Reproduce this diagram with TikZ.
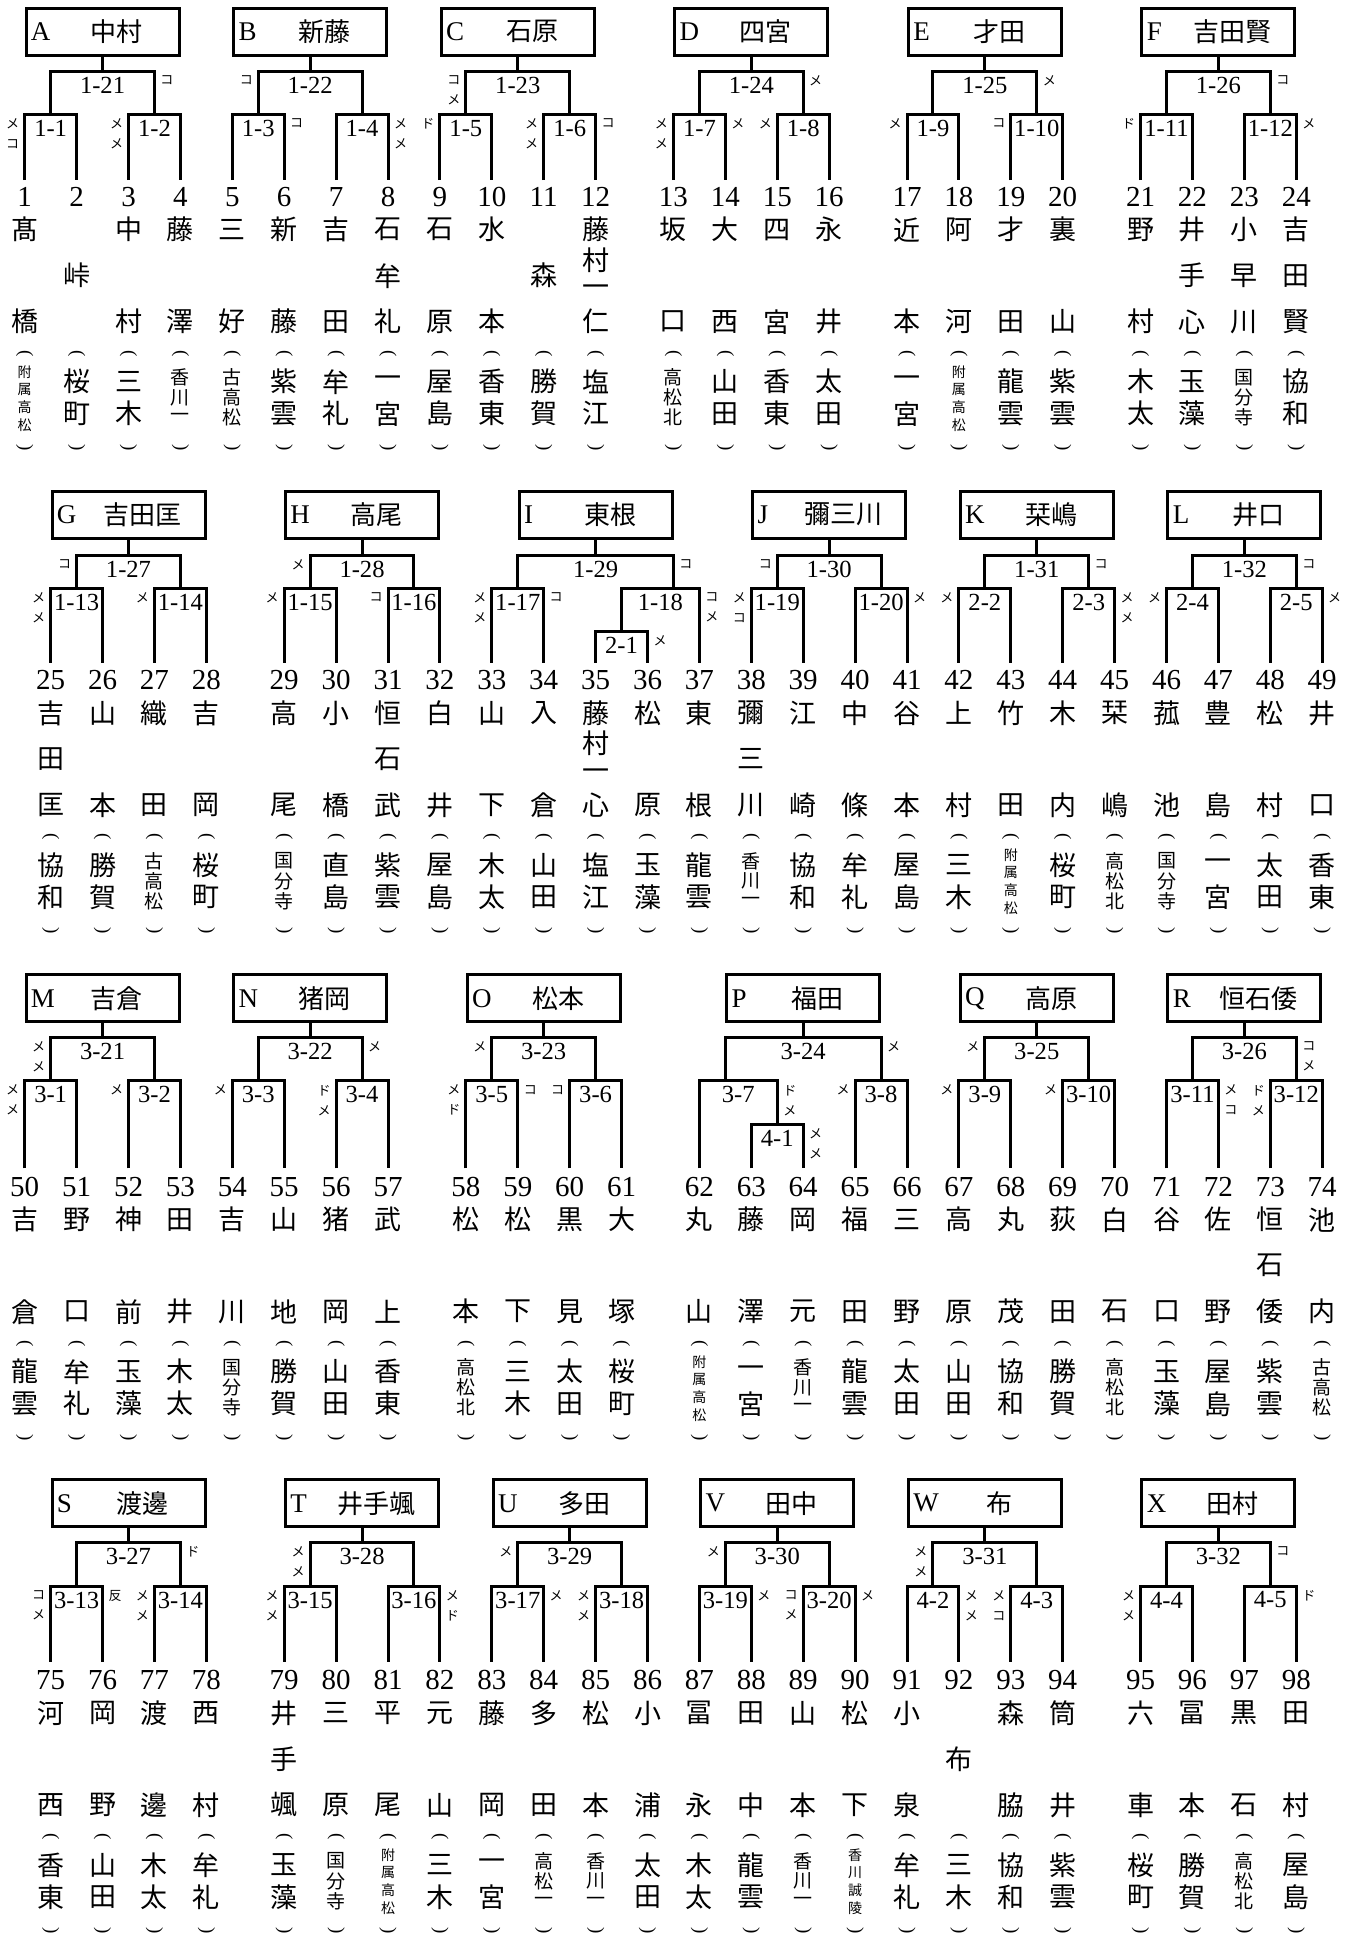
\documentclass[tikz,border=0pt]{standalone}
\usepackage{fontspec}
\setmainfont{Liberation Serif}
\newfontfamily\jp{Noto Sans CJK JP}
\usepackage{tikz}
\usetikzlibrary{calc}
\tikzset{
  bk/.style={line width=1.5pt},
  winbox/.style={draw, line width=1.5pt, minimum width=76.5pt, minimum height=23.5pt, inner sep=0pt},
}
\newcommand\colx[1]{24.7+51.9*(#1)}
\newcommand\countchars[1]{\gdef\vcnt{0}\foreach \ch in {#1}{\xdef\vcnt{\the\numexpr\vcnt+1\relax}}}
\newcommand\vchars[6]{%
  \countchars{#5}%
  \ifnum\vcnt=1
    \node[#6] (#1) at ({\colx{#2}},{(#3+#4)/2}) {#5};
  \else
    \foreach \ch [count=\k from 0] in {#5}
      {\node[#6] (#1-\k) at ({\colx{#2}},{#3+(#4-(#3))*\k/(\vcnt-1)}) {\ch};}
  \fi}
\newcommand\school[3]{%
  \node[paren] (so#1) at ({\colx{#2}},{\rN+157}) {(};
  \node[paren] (sc#1) at ({\colx{#2}},{\rN+251}) {)};
  \countchars{#3}%
  \ifcase\vcnt\or\or
    \vchars{s#1}{#2}{\rN+185}{\rN+217}{#3}{schl}%
  \or
    \vchars{s#1}{#2}{\rN+181}{\rN+221}{#3}{schs}%
  \else
    \vchars{s#1}{#2}{\rN+175}{\rN+228}{#3}{scht}%
  \fi}
\newcommand\player[4]{%
  \coordinate (p#1) at ({\colx{#2}},{\rL});
  \node[num] (num#1) at ({\colx{#2}},{\rN}) {#1};
  \vchars{n#1}{#2}{\rN+33}{\rN+125}{#3}{namech}%
  \school{#1}{#2}{#4}}
\newcommand\match[6]{%
  \coordinate (m#1) at ({\colx{#3}},#4);
  \draw[bk] (#5) |- (m#1) -| (#6);
  \node[mlab] (t#1) at ($(#5|-m#1)!.5!(#6|-m#1)+(0,14)$) {#2};}
\newcommand\winner[4]{%
  \node[winbox] (b#1) at ({\colx{#3}},#4) {};
  \node[boxlet, anchor=west] (l#1) at ([xshift=3pt]b#1.west) {#1};
  \node[boxname] (w#1) at ([xshift=7.2pt]b#1.center) {#2};}

\begin{document}
\begin{tikzpicture}[x=0.5pt, y=-0.5pt,
  num/.style={font=\fontsize{14.5}{15}\selectfont, inner sep=0pt},
  namech/.style={font=\jp\fontsize{13.5}{14}\selectfont, inner sep=0pt},
  schl/.style={namech},
  schs/.style={font=\jp\fontsize{9.5}{10}\selectfont, inner sep=0pt},
  scht/.style={font=\jp\fontsize{7}{8}\selectfont, inner sep=0pt},
  paren/.style={font=\fontsize{9.5}{10}\selectfont, inner sep=0pt, rotate=-90},
  mlab/.style={font=\fontsize{12.3}{13}\selectfont, inner sep=0pt},
  boxlet/.style={font=\fontsize{13.5}{14}\selectfont, inner sep=0pt},
  boxname/.style={font=\jp\fontsize{13}{14}\selectfont, inner sep=0pt},
  mk/.style={font=\jp\fontsize{6.5}{10}\selectfont, align=center, inner sep=0pt, anchor=north}]
\useasboundingbox (0,0) rectangle (1352,1934);

% row 1
\def\rN{196.7}\def\rL{180}
\player{1}{0}{髙,橋}{附,属,高,松}
\player{2}{1}{峠}{桜,町}
\player{3}{2}{中,村}{三,木}
\player{4}{3}{藤,澤}{香,川,一}
\player{5}{4}{三,好}{古,高,松}
\player{6}{5}{新,藤}{紫,雲}
\player{7}{6}{吉,田}{牟,礼}
\player{8}{7}{石,牟,礼}{一,宮}
\player{9}{8}{石,原}{屋,島}
\player{10}{9}{水,本}{香,東}
\player{11}{10}{森}{勝,賀}
\player{12}{11}{藤,村,一,仁}{塩,江}
\player{13}{12.5}{坂,口}{高,松,北}
\player{14}{13.5}{大,西}{山,田}
\player{15}{14.5}{四,宮}{香,東}
\player{16}{15.5}{永,井}{太,田}
\player{17}{17}{近,本}{一,宮}
\player{18}{18}{阿,河}{附,属,高,松}
\player{19}{19}{才,田}{龍,雲}
\player{20}{20}{裏,山}{紫,雲}
\player{21}{21.5}{野,村}{木,太}
\player{22}{22.5}{井,手,心}{玉,藻}
\player{23}{23.5}{小,早,川}{国,分,寺}
\player{24}{24.5}{吉,田,賢}{協,和}

\match{1x1}{1-1}{0.5}{114.3}{p1}{p2}
\match{1x2}{1-2}{2.5}{114.3}{p3}{p4}
\match{1x21}{1-21}{1.5}{71}{m1x1}{m1x2}
\match{1x3}{1-3}{4.5}{114.3}{p5}{p6}
\match{1x4}{1-4}{6.5}{114.3}{p7}{p8}
\match{1x22}{1-22}{5.5}{71}{m1x3}{m1x4}
\match{1x5}{1-5}{8.5}{114.3}{p9}{p10}
\match{1x6}{1-6}{10.5}{114.3}{p11}{p12}
\match{1x23}{1-23}{9.5}{71}{m1x5}{m1x6}
\match{1x7}{1-7}{13}{114.3}{p13}{p14}
\match{1x8}{1-8}{15}{114.3}{p15}{p16}
\match{1x24}{1-24}{14}{71}{m1x7}{m1x8}
\match{1x9}{1-9}{17.5}{114.3}{p17}{p18}
\match{1x10}{1-10}{19.5}{114.3}{p19}{p20}
\match{1x25}{1-25}{18.5}{71}{m1x9}{m1x10}
\match{1x11}{1-11}{22}{114.3}{p21}{p22}
\match{1x12}{1-12}{24}{114.3}{p23}{p24}
\match{1x26}{1-26}{23}{71}{m1x11}{m1x12}

\winner{A}{中村}{1.5}{31.65}
\winner{B}{新藤}{5.5}{31.65}
\winner{C}{石原}{9.5}{31.65}
\winner{D}{四宮}{14}{31.65}
\winner{E}{才田}{18.5}{31.65}
\winner{F}{吉田賢}{23}{31.65}
\draw[bk] (bA.south) -- (m1x21);
\draw[bk] (bB.south) -- (m1x22);
\draw[bk] (bC.south) -- (m1x23);
\draw[bk] (bD.south) -- (m1x24);
\draw[bk] (bE.south) -- (m1x25);
\draw[bk] (bF.south) -- (m1x26);

\node[mk] (kA1) at ($(p1|-m1x1)+(-12,4)$) {メ\\コ};
\node[mk] (kA2) at ($(p3|-m1x2)+(-12,4)$) {メ\\メ};
\node[mk] (kA3) at ($(m1x2|-m1x21)+(12.5,4)$) {コ};
\node[mk] (kB1) at ($(m1x3|-m1x22)+(-12,4)$) {コ};
\node[mk] (kB2) at ($(p6|-m1x3)+(12.5,4)$) {コ};
\node[mk] (kB3) at ($(p8|-m1x4)+(12.5,4)$) {メ\\メ};
\node[mk] (kC1) at ($(m1x5|-m1x23)+(-12,4)$) {コ\\メ};
\node[mk] (kC2) at ($(p9|-m1x5)+(-12,4)$) {ド};
\node[mk] (kC3) at ($(p11|-m1x6)+(-12,4)$) {メ\\メ};
\node[mk] (kC4) at ($(p12|-m1x6)+(12.5,4)$) {コ};
\node[mk] (kD1) at ($(m1x8|-m1x24)+(12.5,4)$) {メ};
\node[mk] (kD2) at ($(p13|-m1x7)+(-12,4)$) {メ\\メ};
\node[mk] (kD3) at ($(p14|-m1x7)+(12.5,4)$) {メ};
\node[mk] (kD4) at ($(p15|-m1x8)+(-12,4)$) {メ};
\node[mk] (kE1) at ($(m1x10|-m1x25)+(12.5,4)$) {メ};
\node[mk] (kE2) at ($(p17|-m1x9)+(-12,4)$) {メ};
\node[mk] (kE3) at ($(p19|-m1x10)+(-12,4)$) {コ};
\node[mk] (kF1) at ($(m1x12|-m1x26)+(12.5,4)$) {コ};
\node[mk] (kF2) at ($(p21|-m1x11)+(-12,4)$) {ド};
\node[mk] (kF3) at ($(p24|-m1x12)+(12.5,4)$) {メ};

% row 2
\def\rN{680}\def\rL{662.7}
\player{25}{0.5}{吉,田,匡}{協,和}
\player{26}{1.5}{山,本}{勝,賀}
\player{27}{2.5}{織,田}{古,高,松}
\player{28}{3.5}{吉,岡}{桜,町}
\player{29}{5}{高,尾}{国,分,寺}
\player{30}{6}{小,橋}{直,島}
\player{31}{7}{恒,石,武}{紫,雲}
\player{32}{8}{白,井}{屋,島}
\player{33}{9}{山,下}{木,太}
\player{34}{10}{入,倉}{山,田}
\player{35}{11}{藤,村,一,心}{塩,江}
\player{36}{12}{松,原}{玉,藻}
\player{37}{13}{東,根}{龍,雲}
\player{38}{14}{彌,三,川}{香,川,一}
\player{39}{15}{江,崎}{協,和}
\player{40}{16}{中,條}{牟,礼}
\player{41}{17}{谷,本}{屋,島}
\player{42}{18}{上,村}{三,木}
\player{43}{19}{竹,田}{附,属,高,松}
\player{44}{20}{木,内}{桜,町}
\player{45}{21}{栞,嶋}{高,松,北}
\player{46}{22}{菰,池}{国,分,寺}
\player{47}{23}{豊,島}{一,宮}
\player{48}{24}{松,村}{太,田}
\player{49}{25}{井,口}{香,東}

\match{1x13}{1-13}{1}{588}{p25}{p26}
\match{1x14}{1-14}{3}{588}{p27}{p28}
\match{1x27}{1-27}{2}{555}{m1x13}{m1x14}
\match{1x15}{1-15}{5.5}{588}{p29}{p30}
\match{1x16}{1-16}{7.5}{588}{p31}{p32}
\match{1x28}{1-28}{6.5}{555}{m1x15}{m1x16}
\match{1x17}{1-17}{9.5}{588}{p33}{p34}
\match{2x1}{2-1}{11.5}{631}{p35}{p36}
\match{1x18}{1-18}{12.5}{588}{m2x1}{p37}
\match{1x29}{1-29}{11}{555}{m1x17}{m1x18}
\match{1x19}{1-19}{14.5}{588}{p38}{p39}
\match{1x20}{1-20}{16.5}{588}{p40}{p41}
\match{1x30}{1-30}{15.5}{555}{m1x19}{m1x20}
\match{2x2}{2-2}{18.5}{588}{p42}{p43}
\match{2x3}{2-3}{20.5}{588}{p44}{p45}
\match{1x31}{1-31}{19.5}{555}{m2x2}{m2x3}
\match{2x4}{2-4}{22.5}{588}{p46}{p47}
\match{2x5}{2-5}{24.5}{588}{p48}{p49}
\match{1x32}{1-32}{23.5}{555}{m2x4}{m2x5}

\winner{G}{吉田匡}{2}{514.65}
\winner{H}{高尾}{6.5}{514.65}
\winner{I}{東根}{11}{514.65}
\winner{J}{彌三川}{15.5}{514.65}
\winner{K}{栞嶋}{19.5}{514.65}
\winner{L}{井口}{23.5}{514.65}
\draw[bk] (bG.south) -- (m1x27);
\draw[bk] (bH.south) -- (m1x28);
\draw[bk] (bI.south) -- (m1x29);
\draw[bk] (bJ.south) -- (m1x30);
\draw[bk] (bK.south) -- (m1x31);
\draw[bk] (bL.south) -- (m1x32);

\node[mk] (kG1) at ($(m1x13|-m1x27)+(-12,4)$) {コ};
\node[mk] (kG2) at ($(p25|-m1x13)+(-12,4)$) {メ\\メ};
\node[mk] (kG3) at ($(p27|-m1x14)+(-12,4)$) {メ};
\node[mk] (kH1) at ($(m1x15|-m1x28)+(-12,4)$) {メ};
\node[mk] (kH2) at ($(p29|-m1x15)+(-12,4)$) {メ};
\node[mk] (kH3) at ($(p31|-m1x16)+(-12,4)$) {コ};
\node[mk] (kI1) at ($(m1x18|-m1x29)+(12.5,4)$) {コ};
\node[mk] (kI2) at ($(p33|-m1x17)+(-12,4)$) {メ\\メ};
\node[mk] (kI3) at ($(p34|-m1x17)+(12.5,4)$) {コ};
\node[mk] (kI4) at ($(p37|-m1x18)+(12.5,4)$) {コ\\メ};
\node[mk] (kI5) at ($(p36|-m2x1)+(12.5,4)$) {メ};
\node[mk] (kJ1) at ($(m1x19|-m1x30)+(-12,4)$) {コ};
\node[mk] (kJ2) at ($(p38|-m1x19)+(-12,4)$) {メ\\コ};
\node[mk] (kJ3) at ($(p41|-m1x20)+(12.5,4)$) {メ};
\node[mk] (kK1) at ($(m2x3|-m1x31)+(12.5,4)$) {コ};
\node[mk] (kK2) at ($(p42|-m2x2)+(-12,4)$) {メ};
\node[mk] (kK3) at ($(p45|-m2x3)+(12.5,4)$) {メ\\メ};
\node[mk] (kL1) at ($(m2x5|-m1x32)+(12.5,4)$) {コ};
\node[mk] (kL2) at ($(p46|-m2x4)+(-12,4)$) {メ};
\node[mk] (kL3) at ($(p49|-m2x5)+(12.5,4)$) {メ};

% row 3
\def\rN{1186.7}\def\rL{1168.3}
\player{50}{0}{吉,倉}{龍,雲}
\player{51}{1}{野,口}{牟,礼}
\player{52}{2}{神,前}{玉,藻}
\player{53}{3}{田,井}{木,太}
\player{54}{4}{吉,川}{国,分,寺}
\player{55}{5}{山,地}{勝,賀}
\player{56}{6}{猪,岡}{山,田}
\player{57}{7}{武,上}{香,東}
\player{58}{8.5}{松,本}{高,松,北}
\player{59}{9.5}{松,下}{三,木}
\player{60}{10.5}{黒,見}{太,田}
\player{61}{11.5}{大,塚}{桜,町}
\player{62}{13}{丸,山}{附,属,高,松}
\player{63}{14}{藤,澤}{一,宮}
\player{64}{15}{岡,元}{香,川,一}
\player{65}{16}{福,田}{龍,雲}
\player{66}{17}{三,野}{太,田}
\player{67}{18}{高,原}{山,田}
\player{68}{19}{丸,茂}{協,和}
\player{69}{20}{荻,田}{勝,賀}
\player{70}{21}{白,石}{高,松,北}
\player{71}{22}{谷,口}{玉,藻}
\player{72}{23}{佐,野}{屋,島}
\player{73}{24}{恒,石,倭}{紫,雲}
\player{74}{25}{池,内}{古,高,松}

\match{3x1}{3-1}{0.5}{1080.7}{p50}{p51}
\match{3x2}{3-2}{2.5}{1080.7}{p52}{p53}
\match{3x21}{3-21}{1.5}{1037.3}{m3x1}{m3x2}
\match{3x3}{3-3}{4.5}{1080.7}{p54}{p55}
\match{3x4}{3-4}{6.5}{1080.7}{p56}{p57}
\match{3x22}{3-22}{5.5}{1037.3}{m3x3}{m3x4}
\match{3x5}{3-5}{9}{1080.7}{p58}{p59}
\match{3x6}{3-6}{11}{1080.7}{p60}{p61}
\match{3x23}{3-23}{10}{1037.3}{m3x5}{m3x6}
\match{4x1}{4-1}{14.5}{1124}{p63}{p64}
\match{3x7}{3-7}{13.5}{1080.7}{p62}{m4x1}
\match{3x8}{3-8}{16.5}{1080.7}{p65}{p66}
\match{3x24}{3-24}{15}{1037.3}{m3x7}{m3x8}
\match{3x9}{3-9}{18.5}{1080.7}{p67}{p68}
\match{3x10}{3-10}{20.5}{1080.7}{p69}{p70}
\match{3x25}{3-25}{19.5}{1037.3}{m3x9}{m3x10}
\match{3x11}{3-11}{22.5}{1080.7}{p71}{p72}
\match{3x12}{3-12}{24.5}{1080.7}{p73}{p74}
\match{3x26}{3-26}{23.5}{1037.3}{m3x11}{m3x12}

\winner{M}{吉倉}{1.5}{998.35}
\winner{N}{猪岡}{5.5}{998.35}
\winner{O}{松本}{10}{998.35}
\winner{P}{福田}{15}{998.35}
\winner{Q}{高原}{19.5}{998.35}
\winner{R}{恒石倭}{23.5}{998.35}
\draw[bk] (bM.south) -- (m3x21);
\draw[bk] (bN.south) -- (m3x22);
\draw[bk] (bO.south) -- (m3x23);
\draw[bk] (bP.south) -- (m3x24);
\draw[bk] (bQ.south) -- (m3x25);
\draw[bk] (bR.south) -- (m3x26);

\node[mk] (kM1) at ($(m3x1|-m3x21)+(-12,4)$) {メ\\メ};
\node[mk] (kM2) at ($(p50|-m3x1)+(-12,4)$) {メ\\メ};
\node[mk] (kM3) at ($(p52|-m3x2)+(-12,4)$) {メ};
\node[mk] (kN1) at ($(m3x4|-m3x22)+(12.5,4)$) {メ};
\node[mk] (kN2) at ($(p54|-m3x3)+(-12,4)$) {メ};
\node[mk] (kN3) at ($(p56|-m3x4)+(-12,4)$) {ド\\メ};
\node[mk] (kO1) at ($(m3x5|-m3x23)+(-12,4)$) {メ};
\node[mk] (kO2) at ($(p58|-m3x5)+(-12,4)$) {メ\\ド};
\node[mk] (kO3) at ($(p59|-m3x5)+(12.5,4)$) {コ};
\node[mk] (kO4) at ($(p60|-m3x6)+(-12,4)$) {コ};
\node[mk] (kP1) at ($(m3x8|-m3x24)+(12.5,4)$) {メ};
\node[mk] (kP2) at ($(m4x1|-m3x7)+(12.5,4)$) {ド\\メ};
\node[mk] (kP3) at ($(p64|-m4x1)+(12.5,4)$) {メ\\メ};
\node[mk] (kP4) at ($(p65|-m3x8)+(-12,4)$) {メ};
\node[mk] (kQ1) at ($(m3x9|-m3x25)+(-12,4)$) {メ};
\node[mk] (kQ2) at ($(p67|-m3x9)+(-12,4)$) {メ};
\node[mk] (kQ3) at ($(p69|-m3x10)+(-12,4)$) {メ};
\node[mk] (kR1) at ($(m3x12|-m3x26)+(12.5,4)$) {コ\\メ};
\node[mk] (kR2) at ($(p72|-m3x11)+(12.5,4)$) {メ\\コ};
\node[mk] (kR3) at ($(p73|-m3x12)+(-12,4)$) {ド\\メ};

% row 4
\def\rN{1680}\def\rL{1661.7}
\player{75}{0.5}{河,西}{香,東}
\player{76}{1.5}{岡,野}{山,田}
\player{77}{2.5}{渡,邊}{木,太}
\player{78}{3.5}{西,村}{牟,礼}
\player{79}{5}{井,手,颯}{玉,藻}
\player{80}{6}{三,原}{国,分,寺}
\player{81}{7}{平,尾}{附,属,高,松}
\player{82}{8}{元,山}{三,木}
\player{83}{9}{藤,岡}{一,宮}
\player{84}{10}{多,田}{高,松,一}
\player{85}{11}{松,本}{香,川,一}
\player{86}{12}{小,浦}{太,田}
\player{87}{13}{冨,永}{木,太}
\player{88}{14}{田,中}{龍,雲}
\player{89}{15}{山,本}{香,川,一}
\player{90}{16}{松,下}{香,川,誠,陵}
\player{91}{17}{小,泉}{牟,礼}
\player{92}{18}{布}{三,木}
\player{93}{19}{森,脇}{協,和}
\player{94}{20}{筒,井}{紫,雲}
\player{95}{21.5}{六,車}{桜,町}
\player{96}{22.5}{冨,本}{勝,賀}
\player{97}{23.5}{黒,石}{高,松,北}
\player{98}{24.5}{田,村}{屋,島}

\match{3x13}{3-13}{1}{1586}{p75}{p76}
\match{3x14}{3-14}{3}{1586}{p77}{p78}
\match{3x27}{3-27}{2}{1542.3}{m3x13}{m3x14}
\match{3x15}{3-15}{5.5}{1586}{p79}{p80}
\match{3x16}{3-16}{7.5}{1586}{p81}{p82}
\match{3x28}{3-28}{6.5}{1542.3}{m3x15}{m3x16}
\match{3x17}{3-17}{9.5}{1586}{p83}{p84}
\match{3x18}{3-18}{11.5}{1586}{p85}{p86}
\match{3x29}{3-29}{10.5}{1542.3}{m3x17}{m3x18}
\match{3x19}{3-19}{13.5}{1586}{p87}{p88}
\match{3x20}{3-20}{15.5}{1586}{p89}{p90}
\match{3x30}{3-30}{14.5}{1542.3}{m3x19}{m3x20}
\match{4x2}{4-2}{17.5}{1586}{p91}{p92}
\match{4x3}{4-3}{19.5}{1586}{p93}{p94}
\match{3x31}{3-31}{18.5}{1542.3}{m4x2}{m4x3}
\match{4x4}{4-4}{22}{1586}{p95}{p96}
\match{4x5}{4-5}{24}{1586}{p97}{p98}
\match{3x32}{3-32}{23}{1542.3}{m4x4}{m4x5}

\winner{S}{渡邊}{2}{1503.3}
\winner{T}{井手颯}{6.5}{1503.3}
\winner{U}{多田}{10.5}{1503.3}
\winner{V}{田中}{14.5}{1503.3}
\winner{W}{布}{18.5}{1503.3}
\winner{X}{田村}{23}{1503.3}
\draw[bk] (bS.south) -- (m3x27);
\draw[bk] (bT.south) -- (m3x28);
\draw[bk] (bU.south) -- (m3x29);
\draw[bk] (bV.south) -- (m3x30);
\draw[bk] (bW.south) -- (m3x31);
\draw[bk] (bX.south) -- (m3x32);

\node[mk] (kS1) at ($(m3x14|-m3x27)+(12.5,4)$) {ド};
\node[mk] (kS2) at ($(p75|-m3x13)+(-12,4)$) {コ\\メ};
\node[mk] (kS3) at ($(p76|-m3x13)+(12.5,4)$) {反};
\node[mk] (kS4) at ($(p77|-m3x14)+(-12,4)$) {メ\\メ};
\node[mk] (kT1) at ($(m3x15|-m3x28)+(-12,4)$) {メ\\メ};
\node[mk] (kT2) at ($(p79|-m3x15)+(-12,4)$) {メ\\メ};
\node[mk] (kT3) at ($(p82|-m3x16)+(12.5,4)$) {メ\\ド};
\node[mk] (kU1) at ($(m3x17|-m3x29)+(-12,4)$) {メ};
\node[mk] (kU2) at ($(p84|-m3x17)+(12.5,4)$) {メ};
\node[mk] (kU3) at ($(p85|-m3x18)+(-12,4)$) {メ\\メ};
\node[mk] (kV1) at ($(m3x19|-m3x30)+(-12,4)$) {メ};
\node[mk] (kV2) at ($(p88|-m3x19)+(12.5,4)$) {メ};
\node[mk] (kV3) at ($(p89|-m3x20)+(-12,4)$) {コ\\メ};
\node[mk] (kV4) at ($(p90|-m3x20)+(12.5,4)$) {メ};
\node[mk] (kW1) at ($(m4x2|-m3x31)+(-12,4)$) {メ\\メ};
\node[mk] (kW2) at ($(p92|-m4x2)+(12.5,4)$) {メ\\メ};
\node[mk] (kW3) at ($(p93|-m4x3)+(-12,4)$) {メ\\コ};
\node[mk] (kX1) at ($(m4x5|-m3x32)+(12.5,4)$) {コ};
\node[mk] (kX2) at ($(p95|-m4x4)+(-12,4)$) {メ\\メ};
\node[mk] (kX3) at ($(p98|-m4x5)+(12.5,4)$) {ド};
\end{tikzpicture}
\end{document}
